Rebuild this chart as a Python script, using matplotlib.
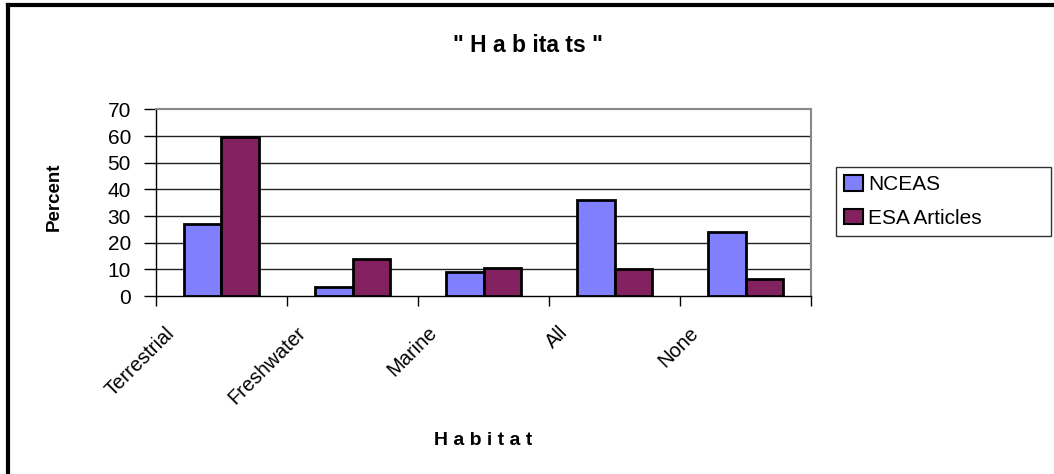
import matplotlib
matplotlib.use("Agg")
import matplotlib.pyplot as plt
from matplotlib.lines import Line2D
import matplotlib.transforms as mtransforms
import numpy as np

plt.rcParams['font.family'] = ['Liberation Sans', 'DejaVu Sans']

habitats = ["Terrestrial", "Freshwater", "Marine", "All", "None"]
nceas = [27, 3.5, 9, 36, 24]
esa_articles = [59.5, 14, 10.5, 10, 6.5]
series_names = ["NCEAS", "ESA Articles"]
y_ticks = [0, 10, 20, 30, 40, 50, 60, 70]

fig = plt.figure(figsize=(10.54, 4.74), dpi=100)
ax = fig.add_axes([0.148, 0.3755, 0.6215, 0.3935])

x = np.arange(len(habitats))
w = 0.287
ax.bar(x - w/2, nceas, w, color='#8080FF', edgecolor='black', linewidth=2, label=series_names[0], zorder=3)
ax.bar(x + w/2, esa_articles, w, color='#822060', edgecolor='black', linewidth=2, label=series_names[1], zorder=3)

ax.set_xlim(-0.5, len(habitats) - 0.5)
ax.set_ylim(0, 70)
ax.set_yticks(y_ticks)
ax.tick_params(axis='y', labelsize=15, length=9, width=1, pad=9, direction='out')
for yv in y_ticks[1:]:
    ax.axhline(yv, color='#222222' if yv < 70 else '#888888', lw=1 if yv < 70 else 1.5, zorder=1)

# category boundary ticks, labels placed separately
ax.set_xticks(np.arange(len(habitats) + 1) - 0.5)
ax.set_xticklabels([])
ax.tick_params(axis='x', length=7, width=1, direction='out')

trans = mtransforms.blended_transform_factory(ax.transData, ax.transAxes)
for i, name in enumerate(habitats):
    ax.text(i - 0.43, -0.145, name, transform=trans, rotation=45, rotation_mode='anchor',
            ha='right', va='top', fontsize=14.5)

for side in ['top', 'right']:
    ax.spines[side].set_color('#888888')
    ax.spines[side].set_linewidth(1.5)
for side in ['left', 'bottom']:
    ax.spines[side].set_color('black')
    ax.spines[side].set_linewidth(1)

ax.set_ylabel("Percent", fontsize=13.5, fontweight='bold')
ax.yaxis.set_label_coords(-0.143, 0.53)
ax.set_xlabel("H a b i t a t", fontsize=14, fontweight='bold')
ax.xaxis.set_label_coords(0.5, -0.73)
fig.text(0.501, 0.905, '" H a b ita ts "', ha='center', va='center', fontsize=16.5, fontweight='bold')

leg = fig.legend(loc='upper left', bbox_to_anchor=(0.793, 0.498, 0.204, 0.15), mode='expand',
                 fontsize=15, handlelength=0.9, handleheight=0.75, handletextpad=0.25,
                 labelspacing=0.7, borderpad=0.4, borderaxespad=0, fancybox=False, frameon=True)
leg.get_frame().set_edgecolor('black')
leg.get_frame().set_linewidth(1)
for h in leg.legend_handles:
    h.set_linewidth(1.5)

# figure frame (only top and left visible in the reference)
fig.add_artist(Line2D([0.0075, 1.0], [0.9905, 0.9905], color='black', lw=3, transform=fig.transFigure))
fig.add_artist(Line2D([0.0075, 0.0075], [0.0, 0.9905], color='black', lw=3, transform=fig.transFigure))

fig.savefig("out.png", dpi=100)
